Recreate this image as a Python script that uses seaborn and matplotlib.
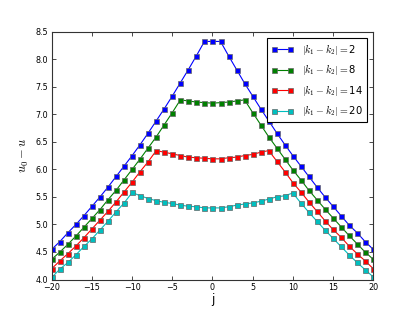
import numpy as np
import pandas as pd
import matplotlib
matplotlib.use("Agg")
import matplotlib.pyplot as plt
import seaborn as sns

j = list(range(-20, 21))

series_labels = [r"$|k_1-k_2|=$2", r"$|k_1-k_2|=$8", r"$|k_1-k_2|=$14", r"$|k_1-k_2|=$20"]

u_k2 = [4.55, 4.69, 4.85, 5.00, 5.16, 5.33, 5.50, 5.68, 5.87, 6.06, 6.25, 6.45, 6.66, 6.88, 7.10, 7.33, 7.57, 7.81, 8.06, 8.32,
        8.32,
        8.32, 8.06, 7.81, 7.56, 7.33, 7.10, 6.88, 6.66, 6.45, 6.25, 6.06, 5.87, 5.68, 5.50, 5.33, 5.16, 4.99, 4.85, 4.69, 4.55]
u_k8 = [4.37, 4.50, 4.64, 4.79, 4.95, 5.11, 5.27, 5.45, 5.62, 5.81, 6.00, 6.19, 6.39, 6.59, 6.81, 7.03, 7.26, 7.24, 7.22, 7.21,
        7.20,
        7.21, 7.22, 7.24, 7.26, 7.03, 6.81, 6.59, 6.39, 6.19, 5.99, 5.81, 5.62, 5.45, 5.28, 5.12, 4.96, 4.80, 4.65, 4.50, 4.37]
u_k14 = [4.20, 4.34, 4.47, 4.61, 4.76, 4.92, 5.08, 5.24, 5.41, 5.59, 5.77, 5.96, 6.14, 6.34, 6.31, 6.28, 6.25, 6.22, 6.21, 6.20,
         6.19,
         6.19, 6.21, 6.22, 6.25, 6.27, 6.31, 6.34, 6.15, 5.96, 5.76, 5.59, 5.41, 5.24, 5.07, 4.91, 4.77, 4.61, 4.47, 4.34, 4.20]
u_k20 = [4.04, 4.19, 4.31, 4.45, 4.60, 4.74, 4.90, 5.06, 5.23, 5.39, 5.58, 5.52, 5.47, 5.43, 5.40, 5.38, 5.35, 5.33, 5.32, 5.30,
         5.30,
         5.30, 5.32, 5.35, 5.37, 5.39, 5.42, 5.46, 5.50, 5.52, 5.57, 5.39, 5.22, 5.06, 4.90, 4.75, 4.60, 4.45, 4.31, 4.18, 4.05]

colors = ["#0000ff", "#008000", "#ff0000", "#00bfbf"]

frames = []
for lab, vals in zip(series_labels, [u_k2, u_k8, u_k14, u_k20]):
    frames.append(pd.DataFrame({"j": j, "u": vals, "series": lab}))
df = pd.concat(frames, ignore_index=True)

plt.rcParams["font.family"] = ["DejaVu Sans"]
plt.rcParams["mathtext.fontset"] = "cm"
plt.rcParams["xtick.direction"] = "in"
plt.rcParams["ytick.direction"] = "in"
plt.rcParams["xtick.top"] = True
plt.rcParams["ytick.right"] = True

fig = plt.figure(figsize=(4.15, 3.12), dpi=100)
ax = fig.add_axes([0.125, 0.104, 0.774, 0.795])

sns.lineplot(data=df, x="j", y="u", hue="series", hue_order=series_labels,
             palette=colors, marker="s", markersize=3.6, markeredgecolor="0.4",
             markeredgewidth=0.5, linewidth=0.8, legend=False, ax=ax)

ax.set_xlim(-20, 20)
ax.set_ylim(4.0, 8.5)
ax.set_xticks([-20, -15, -10, -5, 0, 5, 10, 15, 20])
ax.set_yticks(np.arange(4.0, 8.51, 0.5))
ax.set_xticklabels(["\u221220", "\u221215", "\u221210", "\u22125", "0", "5", "10", "15", "20"])
ax.set_yticklabels([f"{v:.1f}" for v in np.arange(4.0, 8.51, 0.5)])
ax.tick_params(labelsize=5.8, length=3, width=0.5, pad=2.5, colors="black")
for s in ax.spines.values():
    s.set_linewidth(0.8)
    s.set_color("0.2")

ax.set_xlabel("j", fontsize=8.5, labelpad=1)
ax.set_ylabel(r"$u_0-u$", fontsize=9, labelpad=3)

leg = ax.legend(handles=ax.lines[:4], labels=series_labels, loc="upper right",
                numpoints=2, fancybox=False, edgecolor="black", framealpha=1,
                fontsize=7.2, borderaxespad=0.6, handlelength=2.2, labelspacing=0.55,
                handletextpad=0.9)
leg.get_frame().set_linewidth(0.8)

fig.savefig("out.png", dpi=100)
